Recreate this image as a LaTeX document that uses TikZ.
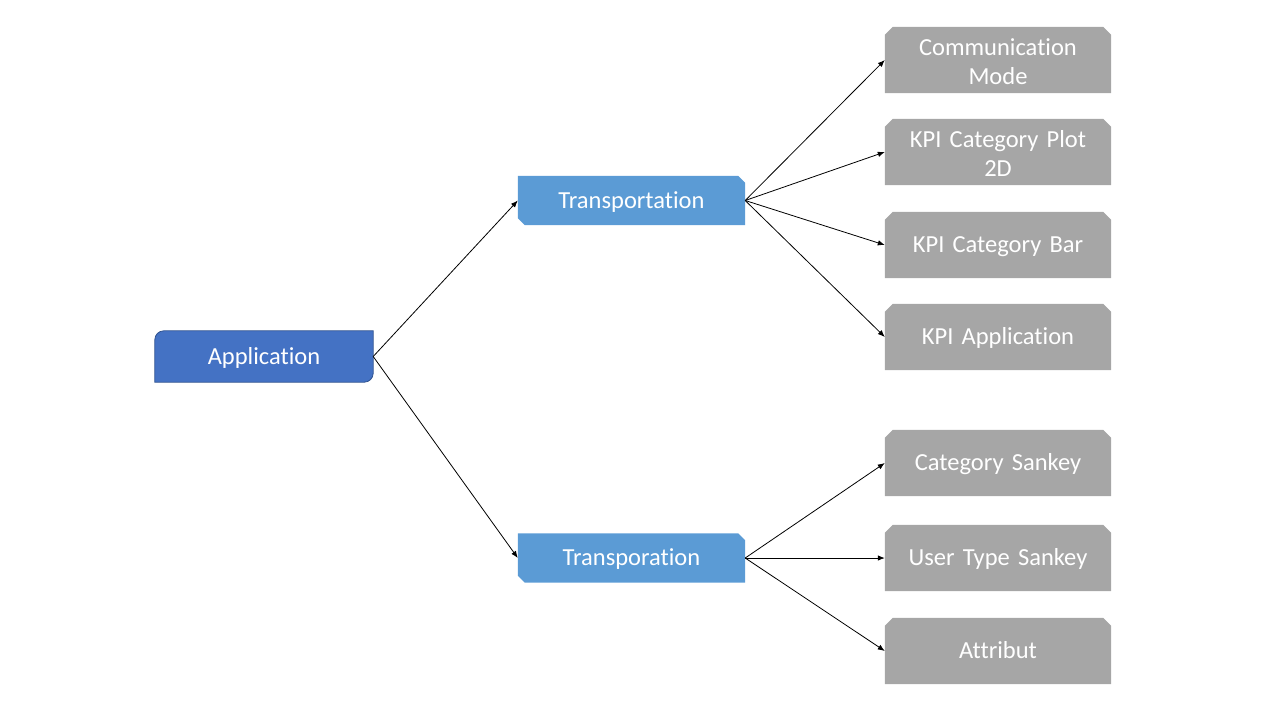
\documentclass[tikz,border=0pt]{standalone}
\usepackage{fontspec}
\setmainfont{Carlito}[Ligatures=NoCommon, WordSpace={0.55,0,0}]
\usetikzlibrary{arrows.meta,backgrounds}
\definecolor{appfill}{RGB}{68,114,196}
\definecolor{appborder}{RGB}{47,82,143}
\definecolor{transfill}{RGB}{91,155,213}
\definecolor{boxgray}{RGB}{166,166,166}
\newcommand\myboxfont{\fontsize{24.5pt}{29pt}\selectfont}
\tikzset{
  txt/.style={inner sep=0pt, text=white, font=\myboxfont, align=center},
  one/.style={text height=15.8pt, text depth=0pt},
  two/.style={text height=20.8pt, text depth=29pt},
  appbox/.style={txt, one, minimum width=218pt, minimum height=51pt},
  transbox/.style={txt, one, minimum width=227pt, minimum height=49pt},
  graybox/.style={txt, minimum width=226pt, minimum height=66pt, text width=210pt},
  conn/.style={line width=0.8pt, -{Latex[length=7pt,width=5.5pt]}}
}
\begin{document}
\begin{tikzpicture}[x=1pt,y=-1pt]
\useasboundingbox (0,0) rectangle (1280,720);
\node[appbox] (app) at (264,356.5) {Application};
\node[transbox] (t1) at (631.5,200.5) {Transportation};
\node[transbox] (t2) at (631.5,558) {Transporation};
\node[graybox, two] (g1) at (998,60) {Communication\\Mode};
\node[graybox, two] (g2) at (998,152) {KPI Category Plot\\2D};
\node[graybox, one] (g3) at (998,245) {KPI Category Bar};
\node[graybox, one] (g4) at (998,337) {KPI Application};
\node[graybox, one] (g5) at (998,463) {Category Sankey};
\node[graybox, one] (g6) at (998,558) {User Type Sankey};
\node[graybox, one] (g7) at (998,651) {Attribut};
\begin{scope}[on background layer]
  \path[fill=appfill, draw=appborder, line width=0.8pt]
    (app.south west) -- ([yshift=-9pt]app.north west)
    arc[start angle=180, end angle=90, radius=9pt]
    -- (app.north east) -- ([yshift=9pt]app.south east)
    arc[start angle=0, end angle=-90, radius=9pt] -- cycle;
  \foreach \n in {t1,t2}
    \fill[transfill] (\n.north west) -- ([xshift=-7pt]\n.north east)
      -- ([yshift=-7pt]\n.north east) -- (\n.south east)
      -- ([xshift=7pt]\n.south west) -- ([yshift=7pt]\n.south west) -- cycle;
  \foreach \n in {g1,g2,g3,g4,g5,g6,g7}
    \fill[boxgray] ([xshift=8pt]\n.north west) -- ([xshift=-8pt]\n.north east)
      -- ([yshift=-8pt]\n.north east) -- (\n.south east)
      -- (\n.south west) -- ([yshift=-8pt]\n.north west) -- cycle;
\end{scope}
\draw[conn] (app.east) -- (t1.west);
\draw[conn] (app.east) -- (t2.west);
\foreach \g in {g1,g2,g3,g4} \draw[conn] (t1.east) -- (\g.west);
\foreach \g in {g5,g6,g7} \draw[conn] (t2.east) -- (\g.west);
\end{tikzpicture}
\end{document}
